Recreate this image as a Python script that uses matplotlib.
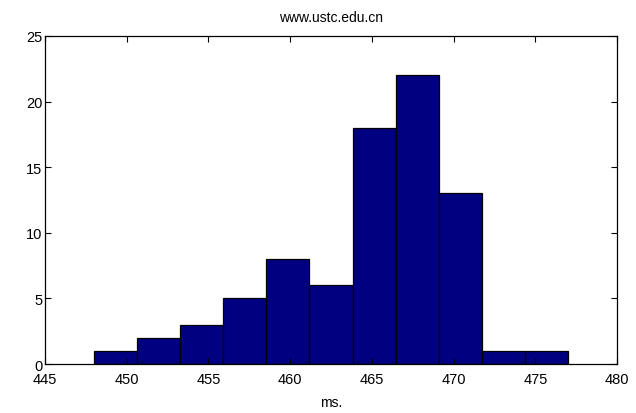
import matplotlib

matplotlib.use("Agg")
import matplotlib.pyplot as plt
import numpy as np

# histogram: 11 equal bins between the sample min and max
SAMPLE_MIN_MS = 448.0
SAMPLE_MAX_MS = 477.0
COUNTS = [1, 2, 3, 5, 8, 6, 18, 22, 13, 1, 1]
X_TICKS = [445, 450, 455, 460, 465, 470, 475, 480]
Y_TICKS = [0, 5, 10, 15, 20, 25]
TITLE = "www.ustc.edu.cn"
XLABEL = "ms."


def main() -> None:
    plt.rcParams["font.family"] = ["Liberation Sans", "DejaVu Sans"]
    fig = plt.figure(figsize=(6.36, 4.14), dpi=100)
    ax = fig.add_axes([0.0708, 0.118, 0.8994, 0.793])

    edges = np.linspace(SAMPLE_MIN_MS, SAMPLE_MAX_MS, len(COUNTS) + 1)
    ax.bar(edges[:-1], COUNTS, width=np.diff(edges), align="edge",
           color="#000080", edgecolor="black", linewidth=0.9)

    ax.set_xlim(X_TICKS[0], X_TICKS[-1])
    ax.set_ylim(Y_TICKS[0], Y_TICKS[-1])
    ax.set_xticks(X_TICKS)
    ax.set_yticks(Y_TICKS)
    ax.tick_params(direction="in", length=4, width=0.8, top=True, right=True,
                   labelsize=10.5, pad=2)
    ax.tick_params(axis="x", pad=6)
    for spine in ax.spines.values():
        spine.set_linewidth(0.9)

    ax.set_title(TITLE, fontsize=10, pad=11)
    ax.set_xlabel(XLABEL, fontsize=10, labelpad=6)

    fig.savefig("out.png", dpi=100)
    plt.close(fig)


if __name__ == "__main__":
    main()
